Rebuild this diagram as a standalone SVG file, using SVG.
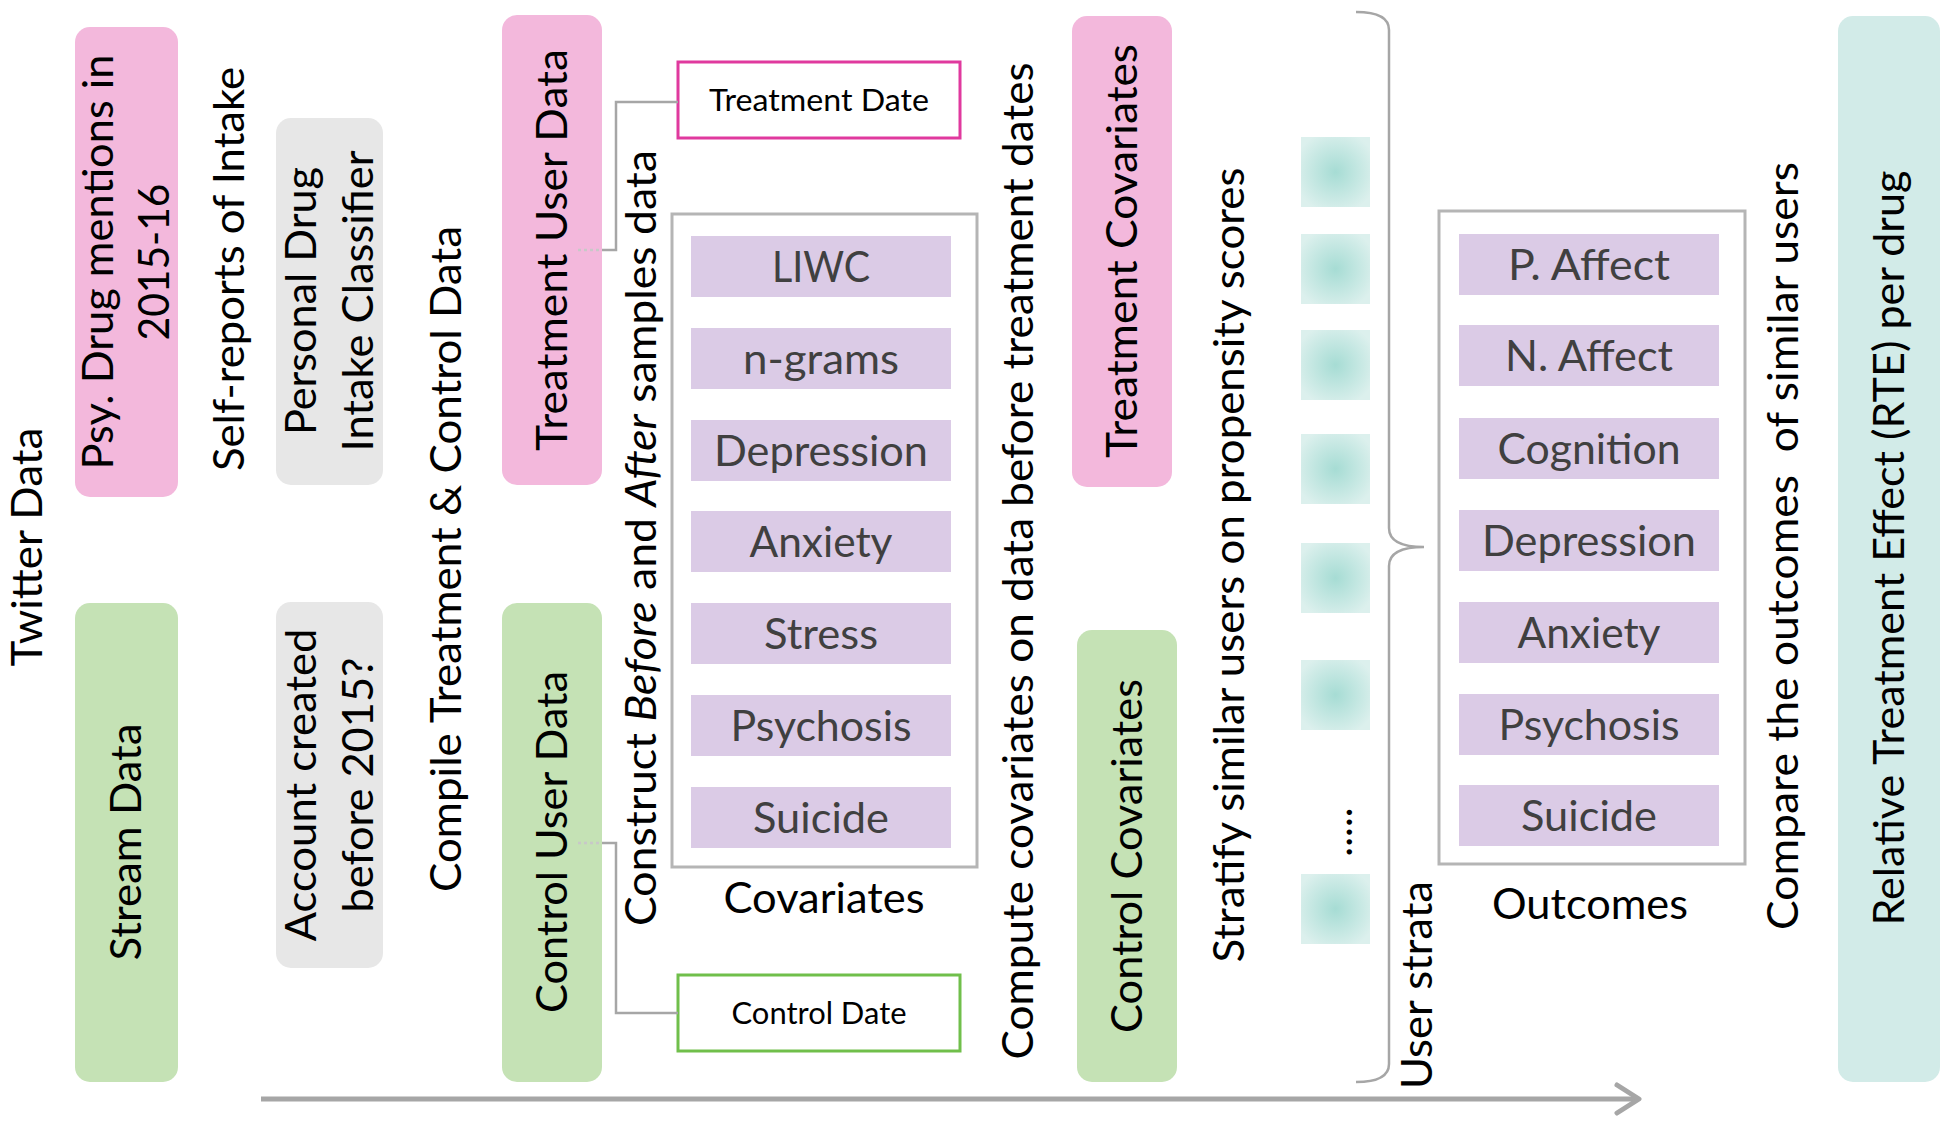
<svg xmlns="http://www.w3.org/2000/svg" width="1950" height="1128" viewBox="0 0 1950 1128">
<defs>
<style>
.t{font-family:Lato,"Open Sans","Liberation Sans",sans-serif;font-size:42px;fill:#000}
.g{fill:#404040}
.sm{font-size:30.5px}
.pink{fill:#f3b8dc}
.green{fill:#c5e2b5}
.grey{fill:#e7e7e7}
.item{fill:#dbcbe6}
.cont{fill:none;stroke:#b5b5b5;stroke-width:3}
.conn{fill:none;stroke:#a6a6a6;stroke-width:2.5}
.dots{fill:none;stroke:#c8c8c8;stroke-width:2.5;stroke-dasharray:3 3}
</style>
<radialGradient id="sq" cx="50%" cy="50%" r="60%">
<stop offset="0" stop-color="#a6dcd4"/>
<stop offset="1" stop-color="#dcf0ed"/>
</radialGradient>
</defs>
<rect width="1950" height="1128" fill="#fff"/>

<g id="twitter-data">
<text class="t" transform="translate(42,547) rotate(-90)" text-anchor="middle" textLength="239" lengthAdjust="spacingAndGlyphs">Twitter Data</text>
</g>

<g id="psy-drug">
<rect class="pink" x="75" y="27" width="103" height="470" rx="15"/>
<text class="t" transform="translate(113,262) rotate(-90)" text-anchor="middle"><tspan x="0" y="0" textLength="415" lengthAdjust="spacingAndGlyphs">Psy. Drug mentions in</tspan><tspan x="0" y="56" textLength="157" lengthAdjust="spacingAndGlyphs">2015-16</tspan></text>
</g>

<g id="stream-data">
<rect class="green" x="75" y="603" width="103" height="479" rx="15"/>
<text class="t" transform="translate(141,842) rotate(-90)" text-anchor="middle" textLength="237" lengthAdjust="spacingAndGlyphs">Stream Data</text>
</g>

<g id="self-reports">
<text class="t" transform="translate(244,269) rotate(-90)" text-anchor="middle" textLength="404" lengthAdjust="spacingAndGlyphs">Self-reports of Intake</text>
</g>

<g id="classifier">
<rect class="grey" x="276" y="118" width="107" height="367" rx="15"/>
<text class="t" transform="translate(316,301) rotate(-90)" text-anchor="middle"><tspan x="0" y="0" textLength="268" lengthAdjust="spacingAndGlyphs">Personal Drug</tspan><tspan x="0" y="57" textLength="301" lengthAdjust="spacingAndGlyphs">Intake Classifier</tspan></text>
</g>

<g id="account-created">
<rect class="grey" x="276" y="602" width="107" height="366" rx="15"/>
<text class="t" transform="translate(316,785) rotate(-90)" text-anchor="middle"><tspan x="0" y="0" textLength="313" lengthAdjust="spacingAndGlyphs">Account created</tspan><tspan x="0" y="57" textLength="255" lengthAdjust="spacingAndGlyphs">before 2015?</tspan></text>
</g>

<g id="compile">
<text class="t" transform="translate(461,559) rotate(-90)" text-anchor="middle" textLength="666" lengthAdjust="spacingAndGlyphs">Compile Treatment &amp; Control Data</text>
</g>

<g id="treatment-user-data">
<rect class="pink" x="502" y="15" width="100" height="470" rx="15"/>
<text class="t" transform="translate(567,250) rotate(-90)" text-anchor="middle" textLength="402" lengthAdjust="spacingAndGlyphs">Treatment User Data</text>
</g>

<g id="control-user-data">
<rect class="green" x="502" y="603" width="100" height="479" rx="15"/>
<text class="t" transform="translate(567,842) rotate(-90)" text-anchor="middle" textLength="342" lengthAdjust="spacingAndGlyphs">Control User Data</text>
</g>

<g id="treatment-date">
<rect x="678" y="62" width="282" height="76" fill="#fff" stroke="#e0399e" stroke-width="3"/>
<text class="t sm" x="819" y="111" text-anchor="middle" textLength="220" lengthAdjust="spacingAndGlyphs">Treatment Date</text>
</g>

<g id="control-date">
<rect x="678" y="975" width="282" height="76" fill="#fff" stroke="#70bf4b" stroke-width="3"/>
<text class="t sm" x="819" y="1024" text-anchor="middle" textLength="175" lengthAdjust="spacingAndGlyphs">Control Date</text>
</g>

<g id="construct">
<text class="t" transform="translate(656,538) rotate(-90)" text-anchor="middle" textLength="776" lengthAdjust="spacingAndGlyphs">Construct <tspan font-style="italic">Before</tspan> and <tspan font-style="italic">After</tspan> samples data</text>
</g>

<g id="covariates">
<rect class="cont" x="672" y="214" width="305" height="653"/>
<rect class="item" x="691" y="236" width="260" height="61"/>
<rect class="item" x="691" y="328" width="260" height="61"/>
<rect class="item" x="691" y="420" width="260" height="61"/>
<rect class="item" x="691" y="511" width="260" height="61"/>
<rect class="item" x="691" y="603" width="260" height="61"/>
<rect class="item" x="691" y="695" width="260" height="61"/>
<rect class="item" x="691" y="787" width="260" height="61"/>
<g class="t g" text-anchor="middle">
<text x="821" y="282" textLength="98" lengthAdjust="spacingAndGlyphs">LIWC</text>
<text x="821" y="374" textLength="156" lengthAdjust="spacingAndGlyphs">n-grams</text>
<text x="821" y="466" textLength="214" lengthAdjust="spacingAndGlyphs">Depression</text>
<text x="821" y="557" textLength="143" lengthAdjust="spacingAndGlyphs">Anxiety</text>
<text x="821" y="649" textLength="114" lengthAdjust="spacingAndGlyphs">Stress</text>
<text x="821" y="741" textLength="181" lengthAdjust="spacingAndGlyphs">Psychosis</text>
<text x="821" y="833" textLength="136" lengthAdjust="spacingAndGlyphs">Suicide</text>
</g>
<text class="t" x="824" y="913" text-anchor="middle" textLength="201" lengthAdjust="spacingAndGlyphs">Covariates</text>
</g>

<g id="compute">
<text class="t" transform="translate(1033,561) rotate(-90)" text-anchor="middle" textLength="997" lengthAdjust="spacingAndGlyphs">Compute covariates on data before treatment dates</text>
</g>

<g id="treatment-covariates">
<rect class="pink" x="1072" y="16" width="100" height="471" rx="15"/>
<text class="t" transform="translate(1137,251) rotate(-90)" text-anchor="middle" textLength="414" lengthAdjust="spacingAndGlyphs">Treatment Covariates</text>
</g>

<g id="control-covariates">
<rect class="green" x="1077" y="630" width="100" height="452" rx="15"/>
<text class="t" transform="translate(1142,856) rotate(-90)" text-anchor="middle" textLength="354" lengthAdjust="spacingAndGlyphs">Control Covariates</text>
</g>

<g id="stratify">
<text class="t" transform="translate(1244,565) rotate(-90)" text-anchor="middle" textLength="795" lengthAdjust="spacingAndGlyphs">Stratify similar users on propensity scores</text>
</g>

<g id="strata">
<rect x="1301" y="137" width="69" height="70" fill="url(#sq)"/>
<rect x="1301" y="234" width="69" height="70" fill="url(#sq)"/>
<rect x="1301" y="330" width="69" height="70" fill="url(#sq)"/>
<rect x="1301" y="434" width="69" height="70" fill="url(#sq)"/>
<rect x="1301" y="543" width="69" height="70" fill="url(#sq)"/>
<rect x="1301" y="660" width="69" height="70" fill="url(#sq)"/>
<rect x="1301" y="874" width="69" height="70" fill="url(#sq)"/>
<text class="t" transform="translate(1352,832) rotate(-90)" text-anchor="middle">.....</text>
<text class="t" transform="translate(1432,985) rotate(-90)" text-anchor="middle" textLength="208" lengthAdjust="spacingAndGlyphs">User strata</text>
</g>

<g id="outcomes">
<rect class="cont" x="1439" y="211" width="306" height="653"/>
<rect class="item" x="1459" y="234" width="260" height="61"/>
<rect class="item" x="1459" y="325" width="260" height="61"/>
<rect class="item" x="1459" y="418" width="260" height="61"/>
<rect class="item" x="1459" y="510" width="260" height="61"/>
<rect class="item" x="1459" y="602" width="260" height="61"/>
<rect class="item" x="1459" y="694" width="260" height="61"/>
<rect class="item" x="1459" y="785" width="260" height="61"/>
<g class="t g" text-anchor="middle">
<text x="1589" y="280" textLength="162" lengthAdjust="spacingAndGlyphs">P. Affect</text>
<text x="1589" y="371" textLength="168" lengthAdjust="spacingAndGlyphs">N. Affect</text>
<text x="1589" y="464" textLength="183" lengthAdjust="spacingAndGlyphs">Cognition</text>
<text x="1589" y="556" textLength="214" lengthAdjust="spacingAndGlyphs">Depression</text>
<text x="1589" y="648" textLength="143" lengthAdjust="spacingAndGlyphs">Anxiety</text>
<text x="1589" y="740" textLength="181" lengthAdjust="spacingAndGlyphs">Psychosis</text>
<text x="1589" y="831" textLength="136" lengthAdjust="spacingAndGlyphs">Suicide</text>
</g>
<text class="t" x="1590" y="919" text-anchor="middle" textLength="196" lengthAdjust="spacingAndGlyphs">Outcomes</text>
</g>

<g id="compare">
<text class="t" style="white-space:pre" transform="translate(1798,546) rotate(-90)" text-anchor="middle" textLength="768" lengthAdjust="spacingAndGlyphs">Compare the outcomes  of similar users</text>
</g>

<g id="rte">
<rect x="1838" y="16" width="102" height="1066" rx="15" fill="#d2ebe8"/>
<text class="t" transform="translate(1904,548) rotate(-90)" text-anchor="middle" textLength="755" lengthAdjust="spacingAndGlyphs">Relative Treatment Effect (RTE) per drug</text>
</g>

<g id="connectors">
<path class="dots" d="M578,250 H602"/>
<path class="conn" d="M602,250 H616 V102 H678"/>
<path class="dots" d="M578,843 H602"/>
<path class="conn" d="M602,843 H616 V1013 H678"/>
<path class="conn" d="M1356,12 Q1389,12 1389,30 V528 Q1389,547 1424,547 Q1389,547 1389,566 V1064 Q1389,1082 1356,1082"/>
<path d="M261,1099 H1637" fill="none" stroke="#a6a6a6" stroke-width="5"/>
<path d="M1617,1085 L1639,1099 L1617,1113" fill="none" stroke="#a6a6a6" stroke-width="5" stroke-linecap="round" stroke-linejoin="round"/>
</g>
</svg>
